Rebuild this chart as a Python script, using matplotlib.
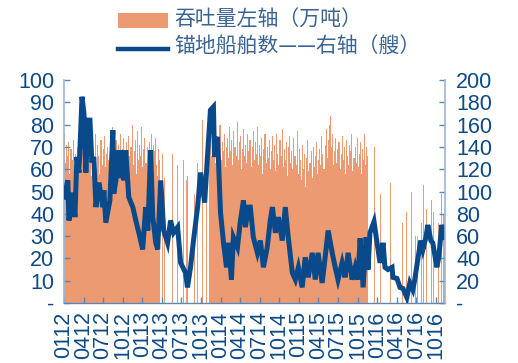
import matplotlib
matplotlib.use("Agg")
import matplotlib.pyplot as plt
from matplotlib.patches import Rectangle
from matplotlib.lines import Line2D
import pandas as pd

# ---------------- data ----------------
bar_start = "2012-01-01"
bar_step_days = 5
throughput = [
    # dense 2012 - Mar 2013
    76, 63, 71, 66, 72, 58, 69, 64, 73, 60, 67, 55, 70, 62, 74, 66, 59, 71, 64, 68,
    72, 61, 78, 65, 70, 57, 74, 68, 63, 76, 60, 71, 66, 58, 73, 62, 69, 75, 61, 67,
    70, 64, 58, 72, 66, 79, 62, 68, 73, 57, 71, 65, 76, 60, 69, 74, 63, 67, 72, 59,
    75, 66, 70, 80, 62, 68, 73, 58, 77, 64, 71, 66, 79, 61, 69, 74, 63, 70, 67, 72,
    65, 76, 60, 71, 68, 74, 62, 57, 69, 64,
    # sparse Apr - Oct 2013
    0, 67, 0, 56, 0, 0, 0, 0, 0, 0, 0, 67, 0, 0, 0, 62, 0, 0, 0, 0,
    0, 64, 0, 0, 55, 57, 0, 0, 0, 0, 0, 49, 0, 0, 63, 0, 0, 0, 0, 82,
    0, 0, 67, 0, 0,
    # dense Oct 2013 - Nov 2015
    72, 77, 66, 74, 69, 78, 63, 71, 75, 67, 80, 64, 72, 68, 76, 61, 70, 74, 65, 79,
    68, 73, 62, 77, 70, 66, 81, 64, 72, 75, 60, 69, 78, 66, 71, 63, 76, 68, 73, 61,
    70, 77, 64, 72, 67, 79, 62, 71, 66, 74, 58, 69, 76, 63, 70, 65, 73, 60, 68, 75,
    64, 71, 59, 76, 67, 62, 73, 66, 78, 61, 69, 64, 72, 57, 70, 75, 63, 68, 60, 74,
    66, 62, 77, 58, 69, 64, 55, 71, 60, 67, 52, 65, 73, 59, 63, 68, 56, 70, 61, 66,
    72, 58, 64, 69, 62, 75, 67, 60, 71, 78, 65, 73, 80, 84, 70, 76, 62, 68, 74, 63,
    69, 72, 60, 67, 75, 64, 70, 58, 73, 66, 62, 71, 68, 76, 59, 65, 70, 63, 74, 61,
    67, 72, 58, 69, 64, 76, 62, 70, 66,
    # sparse Dec 2015 - Nov 2016
    0, 0, 0, 0, 0, 70, 0, 0, 0, 0, 0, 49, 0, 0, 0, 0, 0, 0, 0, 0,
    54, 0, 0, 0, 0, 0, 0, 0, 0, 0, 0, 36, 0, 0, 0, 41, 0, 0, 0, 0,
    50, 0, 0, 30, 0, 30, 0, 0, 0, 36, 0, 53, 0, 0, 42, 0, 0, 0, 46, 0,
    41, 0, 0, 0, 0, 36, 0, 0, 49, 0, 40, 0,
]

ship_dates = [
    "2012-01-01", "2012-01-19", "2012-01-24", "2012-02-12", "2012-02-21", "2012-03-01",
    "2012-03-11", "2012-03-25", "2012-04-03", "2012-04-12", "2012-04-22", "2012-05-01",
    "2012-05-10", "2012-05-19", "2012-05-29", "2012-06-12", "2012-06-30", "2012-07-05",
    "2012-07-14", "2012-08-02", "2012-08-16", "2012-08-20", "2012-08-30", "2012-09-03",
    "2012-09-13", "2012-09-27", "2012-10-06", "2012-10-15", "2012-10-29", "2012-11-17",
    "2012-12-01", "2012-12-15", "2013-01-02", "2013-01-16", "2013-01-26", "2013-02-08",
    "2013-02-18", "2013-03-04", "2013-03-13", "2013-03-27", "2013-04-10", "2013-04-28",
    "2013-05-12", "2013-05-26", "2013-06-14", "2013-06-28", "2013-07-21", "2013-07-30",
    "2013-08-13", "2013-08-27", "2013-09-15", "2013-09-29", "2013-10-18", "2013-10-31",
    "2013-11-14", "2013-11-28", "2013-12-03", "2013-12-17", "2013-12-31", "2014-01-14",
    "2014-01-28", "2014-02-06", "2014-02-20", "2014-03-01", "2014-03-20", "2014-04-03",
    "2014-04-17", "2014-04-26", "2014-05-10", "2014-05-19", "2014-06-02", "2014-06-21",
    "2014-07-05", "2014-07-19", "2014-08-06", "2014-08-20", "2014-08-30", "2014-09-13",
    "2014-09-27", "2014-10-15", "2014-10-29", "2014-11-12", "2014-12-01", "2014-12-15",
    "2014-12-29", "2015-01-16", "2015-01-30", "2015-02-13", "2015-03-04", "2015-03-18",
    "2015-03-31", "2015-04-19", "2015-05-03", "2015-05-17", "2015-06-05", "2015-06-19",
    "2015-07-02", "2015-07-21", "2015-08-04", "2015-08-18", "2015-09-06", "2015-09-20",
    "2015-10-03", "2015-10-13", "2015-10-27", "2015-11-10", "2015-11-19", "2015-11-28",
    "2015-12-17", "2015-12-31", "2016-01-14", "2016-01-28", "2016-02-06", "2016-02-20",
    "2016-03-10", "2016-03-14", "2016-04-02", "2016-04-16", "2016-04-30", "2016-05-18",
    "2016-06-01", "2016-06-15", "2016-06-24", "2016-07-08", "2016-07-22", "2016-08-01",
    "2016-08-15", "2016-08-24", "2016-09-07", "2016-09-16", "2016-10-05", "2016-10-14",
    "2016-10-28", "2016-11-11",
]
ship_counts = [
    95, 110, 74, 99, 77, 131,
    117, 185, 170, 117, 164, 164,
    126, 131, 86, 108, 86, 101,
    72, 92, 155, 98, 110, 137,
    112, 137, 110, 137, 95, 86,
    74, 63, 48, 86, 65, 137,
    77, 54, 48, 110, 65, 54,
    74, 63, 68, 36, 27, 14,
    32, 56, 86, 117, 90, 131,
    173, 176, 131, 149, 81, 54,
    32, 54, 21, 59, 50, 74,
    92, 68, 86, 86, 59, 45,
    56, 32, 50, 74, 86, 63,
    77, 56, 86, 59, 27, 21,
    32, 14, 41, 23, 45, 21,
    45, 18, 41, 65, 45, 32,
    21, 36, 23, 45, 21, 32,
    21, 58, 14, 59, 30, 63,
    73, 54, 36, 54, 32, 30,
    32, 23, 22, 14, 13, 5,
    18, 12, 21, 39, 56, 48,
    59, 70, 56, 54, 32, 41,
    70, 59,
]

tick_dates = ["2012-01-01", "2012-04-01", "2012-07-01", "2012-10-01",
              "2013-01-01", "2013-04-01", "2013-07-01", "2013-10-01",
              "2014-01-01", "2014-04-01", "2014-07-01", "2014-10-01",
              "2015-01-01", "2015-04-01", "2015-07-01", "2015-10-01",
              "2016-01-01", "2016-04-01", "2016-07-01", "2016-10-01"]
tick_labels = ["0112", "0412", "0712", "1012", "0113", "0413", "0713", "1013",
               "0114", "0414", "0714", "1014", "0115", "0415", "0715", "1015",
               "0116", "0416", "0716", "1016"]

left_ticks = [0, 10, 20, 30, 40, 50, 60, 70, 80, 90, 100]
left_labels = ["-", "10", "20", "30", "40", "50", "60", "70", "80", "90", "100"]
right_ticks = [0, 20, 40, 60, 80, 100, 120, 140, 160, 180, 200]
right_labels = ["-", "20", "40", "60", "80", "100", "120", "140", "160", "180", "200"]

legend_bar = "吞吐量左轴（万吨）"
legend_line = "锚地船舶数——右轴（艘）"

# ---------------- style ----------------
ORANGE = "#EC9A71"
BLUE = "#0B4A8A"
TICK_COL = "#0D4A87"
SPINE_LIGHT = "#9DB6D6"
SPINE_DARK = "#5E86B5"
LEG_TXT = "#3A6494"

W, H = 518, 363
fig = plt.figure(figsize=(W / 100, H / 100), dpi=100)
ax = fig.add_axes([64 / W, 1 - 303 / H, (445 - 64) / W, (303 - 80) / H])

bar_dates = pd.date_range(bar_start, periods=len(throughput), freq=f"{bar_step_days}D")
ax.bar(bar_dates, throughput, width=bar_step_days, align="edge",
       color=ORANGE, linewidth=0)

ax2 = ax.twinx()
ax2.plot(pd.to_datetime(ship_dates), ship_counts, color=BLUE, lw=3.6,
         solid_joinstyle="miter")

ax.set_xlim(pd.Timestamp("2012-01-01"), pd.Timestamp("2016-11-12"))
ax.set_ylim(0, 100)
ax2.set_ylim(0, 200)

tick_font = dict(family="Liberation Sans", size=15.5, color=TICK_COL)

ax.set_xticks(pd.to_datetime(tick_dates))
ax.set_xticklabels(tick_labels, rotation=90, **tick_font)
ax.set_yticks(left_ticks)
ax.set_yticklabels(left_labels, **tick_font)
ax2.set_yticks(right_ticks)
ax2.set_yticklabels(right_labels, **tick_font)

for a in (ax, ax2):
    a.spines["top"].set_visible(False)
ax2.spines["left"].set_visible(False)
ax2.spines["bottom"].set_visible(False)
ax.spines["right"].set_visible(False)
ax.spines["left"].set_color(SPINE_LIGHT)
ax.spines["left"].set_linewidth(1.2)
ax2.spines["right"].set_color(SPINE_LIGHT)
ax2.spines["right"].set_linewidth(1.2)
ax.spines["bottom"].set_color(SPINE_DARK)
ax.spines["bottom"].set_linewidth(1.0)

ax.tick_params(axis="y", direction="in", length=4, width=1, color=SPINE_DARK, pad=7)
ax.tick_params(axis="x", direction="in", length=4, width=1, color=SPINE_DARK, pad=6)
ax2.tick_params(axis="y", direction="in", length=4, width=1, color=SPINE_DARK, pad=8)

# ---------------- legend (manual) ----------------
fig.add_artist(Rectangle((118 / W, 1 - 28 / H), 50 / W, 15 / H,
                         transform=fig.transFigure, facecolor=ORANGE, edgecolor="none"))
fig.add_artist(Line2D([118 / W, 168 / W], [1 - 49 / H, 1 - 49 / H],
                      transform=fig.transFigure, color=BLUE, lw=3.2))
cjk = ["Noto Sans CJK SC", "DejaVu Sans"]
fig.text(174 / W, 1 - 20 / H, legend_bar, family=cjk, size=15, color=LEG_TXT,
         va="center", ha="left")
fig.text(174 / W, 1 - 47 / H, legend_line, family=cjk, size=15, color=LEG_TXT,
         va="center", ha="left")

fig.savefig("out.png", dpi=100)
